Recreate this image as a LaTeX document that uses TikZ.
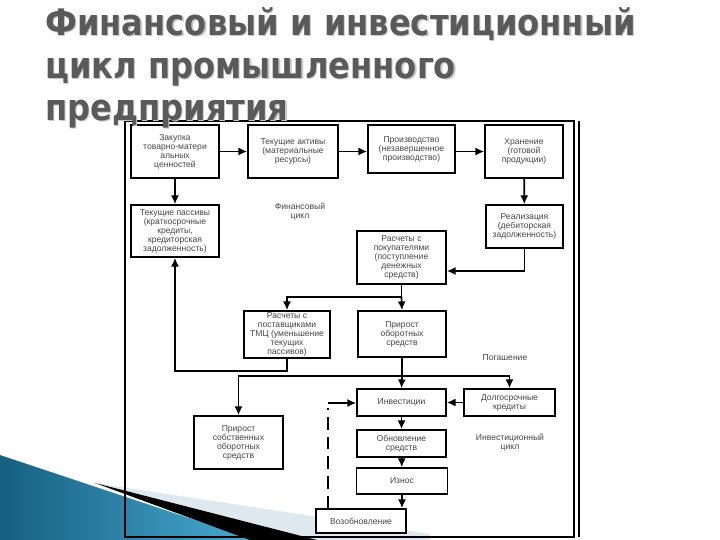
\documentclass[tikz,border=0pt]{standalone}
\usepackage{fontspec}
\setmainfont{Liberation Sans}
\newfontfamily\titlefont[FakeStretch=0.88]{DejaVu Sans Bold}
\usetikzlibrary{arrows.meta,calc}
\definecolor{titlegray}{RGB}{90,90,90}
\definecolor{shadowgray}{RGB}{200,200,200}
\definecolor{tealdark}{RGB}{22,96,128}
\definecolor{teallight}{RGB}{72,170,210}
\definecolor{bandgray}{RGB}{222,233,239}
\begin{document}
\begin{tikzpicture}[x=0.25mm,y=-0.25mm,
  box/.style={draw=black, line width=1.1pt, fill=white, align=center, inner sep=1pt,
    font=\fontsize{6.1}{6.4}\selectfont, text=black!72},
  sz/.style 2 args={minimum width=#1*0.25mm, minimum height=#2*0.25mm},
  ln/.style={line width=1.2pt},
  arr/.style={line width=1.2pt, -{Latex[length=2.2mm,width=2mm]}},
  lbl/.style={align=center, font=\fontsize{6.1}{6.4}\selectfont, text=black!72},
  ttl/.style={anchor=base west, inner sep=0pt, font=\titlefont\fontsize{26}{30}\selectfont, text=titlegray},
  ttlsh/.style={ttl, text=shadowgray},
]
\useasboundingbox (0,0) rectangle (720,540);
\fill[white] (0,0) rectangle (720,540);

% slide decoration, bottom left
\shade[left color=tealdark, right color=teallight] (0,455) -- (255,540) -- (0,540) -- cycle;
\fill[bandgray] (95,483) -- (430,534) -- (430,540) -- (317,540) -- cycle;
\fill[black] (95,483) -- (317,540) -- (250,540) -- cycle;

% frame
\draw[line width=1.1pt] (125,121) rectangle (574,537);
\draw[line width=1.1pt] (579,121) -- (579,537);

% boxes
\node[box, sz={88}{53}] (b1) at (175,151.5) {Закупка\\товарно-матери\\альных\\ценностей};
\node[box, sz={90}{53}] (b2) at (293,151.5) {Текущие активы\\(материальные\\ресурсы)};
\node[box, sz={87}{48}] (b3) at (411.5,149) {Производство\\(незавершенное\\производство)};
\node[box, sz={78}{53}] (b4) at (524,151.5) {Хранение\\(готовой\\продукции)};
\node[box, sz={88}{52}] (b5) at (175,231) {Текущие пассивы\\(краткосрочные\\кредиты,\\кредиторская\\задолженность)};
\node[box, sz={77}{43}] (b6) at (524.5,226.5) {Реализация\\(дебиторская\\задолженность)};
\node[box, sz={89}{53}] (b7) at (401.5,257.5) {Расчеты с\\покупателями\\(поступление\\денежных\\средств)};
\node[box, sz={86}{47}] (b8) at (287,334.5) {Расчеты с\\поставщиками\\ТМЦ (уменьшение\\текущих\\пассивов)};
\node[box, sz={88}{46}] (b9) at (402,334) {Прирост\\оборотных\\средств};
\node[box, sz={89}{27}] (b10) at (401.5,402.5) {Инвестиции};
\node[box, sz={91}{27}] (b11) at (509.5,402.5) {Долгосрочные\\кредиты};
\node[box, sz={89}{53}] (b12) at (238.5,442.5) {Прирост\\собственных\\оборотных\\средств};
\node[box, sz={89}{27}] (b13) at (401.5,443.5) {Обновление\\средств};
\node[box, sz={91}{26}] (b14) at (402,481) {Износ};
\node[box, sz={90}{24}] (b15) at (361,521) {Возобновление};

% labels
\node[lbl] (l1) at (300,212) {Финансовый\\цикл};
\node[lbl] (l2) at (505,358) {Погашение};
\node[lbl] (l3) at (510,443) {Инвестиционный\\цикл};

% junctions
\coordinate (j1) at (401.5,297);
\coordinate (j2) at (402,376);
\coordinate (d1) at (328,403);

% connectors
\draw[arr] (b1) -- (b2);
\draw[arr] (b2) -- (b3.west |- b2);
\draw[arr] (b3.east |- b2) -- (b4.west |- b2);
\draw[arr] (b1) -- (b5);
\draw[arr] (b4) -- (b6);
\draw[arr] (b6.south) |- ([shift={(0,13.5)}]b7.east);
\draw[ln] (b7.south) -- (j1);
\draw[arr] (j1) -- (b9.north);
\draw[arr] (j1) -| (b8.north);
\draw[arr] (b8.south) -- ++(0,12) -| (b5.south);
\draw[ln] (b9.south) -- (j2);
\draw[arr] (j2) -- (b10.north);
\draw[arr] (j2) -| (b12.north);
\draw[arr] (j2) -| (b11.north);
\draw[arr] (b11) -- (b10);
\draw[arr] (b10) -- (b13);
\draw[arr] (b13) -- (b14);
\draw[arr] (b14.south) -- (b14.south |- b15.north);
\draw[ln, dash pattern=on 9pt off 5pt] (d1 |- b15.north) -- ([shift={(0,5)}]d1);
\draw[arr] (d1) -- (b10.west |- d1);

% title
\node[ttlsh] (t1s) at (46.2,36.2) {Финансовый и инвестиционный};
\node[ttlsh] (t2s) at (46.2,79.2) {цикл промышленного};
\node[ttlsh] (t3s) at (46.2,121.2) {предприятия};
\node[ttl] (t1) at (45,35) {Финансовый и инвестиционный};
\node[ttl] (t2) at (45,78) {цикл промышленного};
\node[ttl] (t3) at (45,120) {предприятия};
\end{tikzpicture}
\end{document}
